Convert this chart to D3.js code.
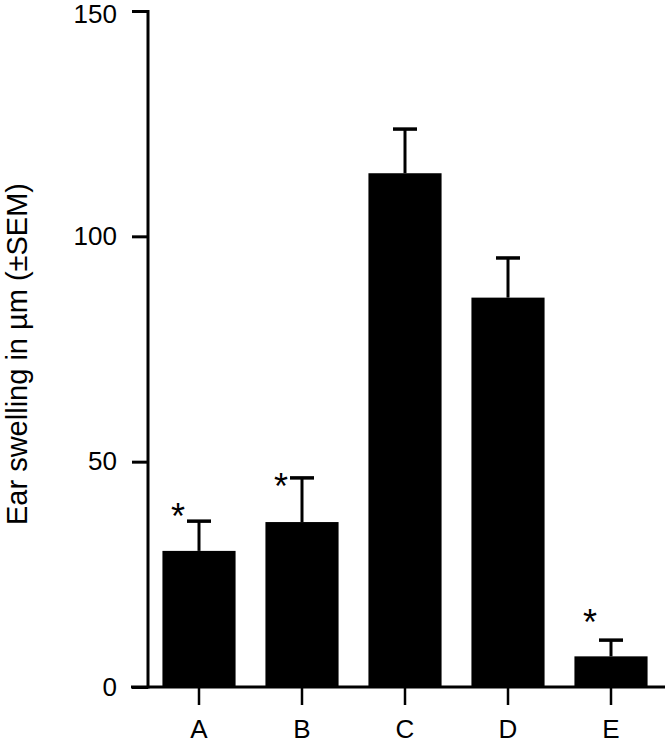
<!DOCTYPE html>
<html>
<head>
<meta charset="utf-8">
<script src="https://cdn.jsdelivr.net/npm/d3@7"></script>
<style>
  body { margin: 0; background: #fff; }
  text { font-family: "Liberation Sans", Arial, sans-serif; fill: #000; }
</style>
</head>
<body>
<script>
// chart data
var groups = ["A", "B", "C", "D", "E"];
var means = [30.2, 36.6, 114, 86.4, 6.8];
var sems = [6.6, 9.8, 9.8, 8.8, 3.6];
var starLevel = [40, 46.7, null, null, 16.5]; // asterisk heights (data units)
var yTicks = [0, 50, 100, 150];

var width = 665, height = 746;

var x = d3.scaleBand()
  .domain(groups)
  .range([147.5, 662.5])
  .paddingInner(0.29)
  .paddingOuter(0.145);

var y = d3.scaleLinear().domain([0, 150]).range([687, 11]);

var svg = d3.select("body").append("svg")
  .attr("width", width)
  .attr("height", height);

var rows = groups.map(function (g, i) {
  return { g: g, m: means[i], e: sems[i], s: starLevel[i] };
});

// bars
svg.selectAll(".bar")
  .data(rows)
  .enter()
  .append("rect")
  .attr("class", "bar")
  .attr("x", function (d) { return x(d.g); })
  .attr("width", x.bandwidth())
  .attr("y", function (d) { return y(d.m); })
  .attr("height", function (d) { return y(0) - y(d.m); })
  .style("fill", "#000");

// error bars (upper only)
var cx = function (d) { return x(d.g) + x.bandwidth() / 2; };
svg.selectAll(".stem")
  .data(rows)
  .enter()
  .append("line")
  .attr("x1", cx).attr("x2", cx)
  .attr("y1", function (d) { return y(d.m); })
  .attr("y2", function (d) { return y(d.m + d.e); })
  .style("stroke", "#000")
  .style("stroke-width", 3);
svg.selectAll(".cap")
  .data(rows)
  .enter()
  .append("line")
  .attr("x1", function (d) { return cx(d) - 12; })
  .attr("x2", function (d) { return cx(d) + 12; })
  .attr("y1", function (d) { return y(d.m + d.e); })
  .attr("y2", function (d) { return y(d.m + d.e); })
  .style("stroke", "#000")
  .style("stroke-width", 3.5);

// asterisks
svg.selectAll(".star")
  .data(rows.filter(function (d) { return d.s !== null; }))
  .enter()
  .append("text")
  .attr("x", function (d) { return cx(d) - 21; })
  .attr("y", function (d) { return y(d.s) + 22; })
  .attr("text-anchor", "middle")
  .style("font-size", "36px")
  .text("*");

// y axis
var yAxis = d3.axisLeft(y).tickValues(yTicks).tickSize(16).tickPadding(15);
var gy = svg.append("g")
  .attr("transform", "translate(148,0)")
  .call(yAxis);
gy.select(".domain").remove();
gy.append("line")
  .attr("x1", 0).attr("x2", 0)
  .attr("y1", y(150) - 1).attr("y2", y(0) + 1.5)
  .style("stroke", "#000")
  .style("stroke-width", 3);
gy.selectAll(".tick line").style("stroke-width", 3);
gy.selectAll(".tick text")
  .style("font-size", "26px")
  .style("font-family", "Liberation Sans, Arial, sans-serif")
  .attr("dy", function (d) { return d === 150 ? "0.46em" : "0.32em"; });

// x axis
var xAxis = d3.axisBottom(x).tickSize(18).tickPadding(15);
var gx = svg.append("g")
  .attr("transform", "translate(0," + y(0) + ")")
  .call(xAxis);
gx.select(".domain").remove();
gx.append("line")
  .attr("x1", 131).attr("x2", 665)
  .attr("y1", 0).attr("y2", 0)
  .style("stroke", "#000")
  .style("stroke-width", 3);
gx.selectAll(".tick line").style("stroke-width", 2.5);
gx.selectAll(".tick text")
  .style("font-size", "26px")
  .style("font-family", "Liberation Sans, Arial, sans-serif");

// y label
svg.append("text")
  .attr("transform", "translate(27,354)rotate(-90)")
  .attr("text-anchor", "middle")
  .style("font-size", "29px")
  .text("Ear swelling in \u00b5m (\u00b1SEM)");
</script>
</body>
</html>
